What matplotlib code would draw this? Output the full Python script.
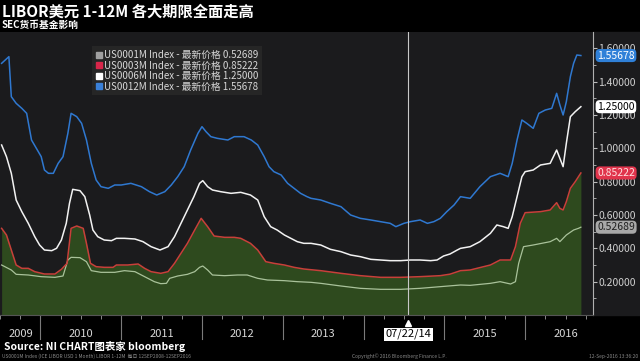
import matplotlib
matplotlib.use("Agg")
import matplotlib.pyplot as plt
import matplotlib.transforms as mtransforms
from matplotlib.lines import Line2D
from matplotlib.patches import Rectangle

plt.rcParams['font.family'] = ['Noto Sans CJK SC', 'DejaVu Sans']

# decimal years
t_12m = [2009.52, 2009.61, 2009.64, 2009.70, 2009.77, 2009.83, 2009.89, 2009.95, 2010.01, 2010.05,
         2010.10, 2010.16, 2010.22, 2010.28, 2010.34, 2010.38, 2010.45, 2010.51, 2010.57, 2010.63,
         2010.69, 2010.75, 2010.84, 2010.92, 2011.00, 2011.12, 2011.25, 2011.35, 2011.44, 2011.54,
         2011.62, 2011.70, 2011.78, 2011.86, 2011.95, 2012.00, 2012.05, 2012.11, 2012.19, 2012.32,
         2012.40, 2012.52, 2012.61, 2012.69, 2012.77, 2012.83, 2012.89, 2012.98, 2013.06, 2013.14,
         2013.22, 2013.30, 2013.35, 2013.47, 2013.59, 2013.72, 2013.84, 2013.96, 2014.09, 2014.21,
         2014.33, 2014.40, 2014.50, 2014.58, 2014.70, 2014.79, 2014.87, 2014.95, 2015.03, 2015.12,
         2015.20, 2015.32, 2015.44, 2015.57, 2015.69, 2015.79, 2015.84, 2015.90, 2015.96, 2016.02,
         2016.10, 2016.17, 2016.25, 2016.33, 2016.39, 2016.43, 2016.47, 2016.51, 2016.56, 2016.60,
         2016.64, 2016.69]
v_12m = [1.51, 1.55, 1.31, 1.27, 1.24, 1.21, 1.05, 1.00, 0.95, 0.87,
         0.85, 0.85, 0.91, 0.95, 1.09, 1.21, 1.19, 1.15, 1.05, 0.91,
         0.81, 0.77, 0.76, 0.78, 0.78, 0.79, 0.77, 0.74, 0.72, 0.74,
         0.78, 0.83, 0.89, 0.99, 1.09, 1.13, 1.10, 1.07, 1.06, 1.05,
         1.07, 1.07, 1.05, 1.02, 0.95, 0.89, 0.86, 0.84, 0.79, 0.76,
         0.73, 0.71, 0.70, 0.69, 0.67, 0.65, 0.60, 0.58, 0.57, 0.56,
         0.55, 0.53, 0.55, 0.56, 0.57, 0.55, 0.56, 0.58, 0.62, 0.66,
         0.71, 0.70, 0.77, 0.83, 0.85, 0.83, 0.91, 1.05, 1.17, 1.15,
         1.12, 1.21, 1.23, 1.24, 1.33, 1.26, 1.20, 1.28, 1.43, 1.51,
         1.56, 1.55678]

t_6m = [2009.52, 2009.58, 2009.64, 2009.70, 2009.77, 2009.85, 2009.93, 2009.99, 2010.05, 2010.14,
        2010.20, 2010.26, 2010.32, 2010.36, 2010.40, 2010.49, 2010.55, 2010.61, 2010.65, 2010.71,
        2010.79, 2010.88, 2010.94, 2011.04, 2011.17, 2011.27, 2011.37, 2011.48, 2011.58, 2011.66,
        2011.74, 2011.82, 2011.90, 2011.97, 2012.01, 2012.07, 2012.13, 2012.23, 2012.36, 2012.48,
        2012.60, 2012.69, 2012.77, 2012.85, 2012.93, 2013.02, 2013.10, 2013.18, 2013.26, 2013.35,
        2013.47, 2013.59, 2013.72, 2013.84, 2013.96, 2014.09, 2014.21, 2014.33, 2014.46, 2014.58,
        2014.70, 2014.83, 2014.91, 2014.99, 2015.07, 2015.16, 2015.20, 2015.32, 2015.44, 2015.57,
        2015.65, 2015.73, 2015.79, 2015.84, 2015.90, 2015.96, 2016.00, 2016.10, 2016.19, 2016.31,
        2016.39, 2016.43, 2016.47, 2016.51, 2016.56, 2016.62, 2016.69]
v_6m = [1.02, 0.95, 0.85, 0.69, 0.62, 0.55, 0.47, 0.42, 0.39, 0.386,
        0.40, 0.45, 0.55, 0.67, 0.754, 0.746, 0.71, 0.60, 0.51, 0.47,
        0.45, 0.446, 0.46, 0.46, 0.456, 0.44, 0.41, 0.39, 0.41, 0.47,
        0.55, 0.63, 0.71, 0.79, 0.806, 0.77, 0.75, 0.74, 0.73, 0.736,
        0.72, 0.69, 0.59, 0.53, 0.51, 0.48, 0.46, 0.44, 0.43, 0.43,
        0.42, 0.394, 0.38, 0.36, 0.35, 0.334, 0.33, 0.326, 0.326, 0.33,
        0.33, 0.326, 0.33, 0.354, 0.366, 0.39, 0.40, 0.41, 0.44, 0.49,
        0.54, 0.53, 0.52, 0.59, 0.71, 0.83, 0.86, 0.87, 0.90, 0.91,
        0.99, 0.94, 0.89, 1.03, 1.19, 1.22, 1.25]

t_3m = [2009.52, 2009.58, 2009.64, 2009.70, 2009.77, 2009.85, 2009.93, 2010.05, 2010.18, 2010.26,
        2010.33, 2010.38, 2010.45, 2010.53, 2010.57, 2010.62, 2010.69, 2010.79, 2010.90, 2010.94,
        2011.08, 2011.21, 2011.29, 2011.37, 2011.49, 2011.58, 2011.66, 2011.74, 2011.82, 2011.91,
        2011.99, 2012.07, 2012.15, 2012.28, 2012.40, 2012.48, 2012.60, 2012.69, 2012.79, 2012.89,
        2013.02, 2013.14, 2013.26, 2013.47, 2013.72, 2013.96, 2014.21, 2014.46, 2014.70, 2014.95,
        2015.07, 2015.20, 2015.32, 2015.57, 2015.69, 2015.82, 2015.88, 2015.94, 2016.00, 2016.19,
        2016.31, 2016.39, 2016.43, 2016.47, 2016.51, 2016.56, 2016.62, 2016.69]
v_3m = [0.52, 0.48, 0.39, 0.30, 0.28, 0.28, 0.26, 0.246, 0.246, 0.274,
        0.31, 0.52, 0.534, 0.52, 0.43, 0.31, 0.29, 0.286, 0.286, 0.30,
        0.30, 0.306, 0.28, 0.26, 0.25, 0.26, 0.31, 0.37, 0.43, 0.51,
        0.58, 0.53, 0.474, 0.466, 0.466, 0.46, 0.43, 0.39, 0.32, 0.31,
        0.30, 0.286, 0.276, 0.266, 0.25, 0.236, 0.226, 0.226, 0.23, 0.236,
        0.245, 0.266, 0.27, 0.30, 0.33, 0.33, 0.41, 0.55, 0.614, 0.62,
        0.63, 0.674, 0.64, 0.63, 0.68, 0.76, 0.80, 0.85222]

t_1m = [2009.52, 2009.64, 2009.70, 2009.85, 2010.01, 2010.18, 2010.28, 2010.34, 2010.38, 2010.49,
        2010.57, 2010.63, 2010.75, 2010.92, 2011.04, 2011.17, 2011.29, 2011.41, 2011.49, 2011.56,
        2011.60, 2011.70, 2011.82, 2011.91, 2011.97, 2012.01, 2012.07, 2012.13, 2012.28, 2012.44,
        2012.56, 2012.69, 2012.81, 2013.02, 2013.18, 2013.35, 2013.47, 2013.72, 2013.96, 2014.21,
        2014.46, 2014.70, 2014.95, 2015.20, 2015.32, 2015.57, 2015.69, 2015.82, 2015.88, 2015.92,
        2015.98, 2016.10, 2016.31, 2016.39, 2016.43, 2016.51, 2016.60, 2016.66, 2016.69]
v_1m = [0.30, 0.27, 0.244, 0.24, 0.23, 0.226, 0.234, 0.33, 0.346, 0.344,
        0.32, 0.266, 0.256, 0.256, 0.266, 0.26, 0.23, 0.20, 0.188, 0.19,
        0.22, 0.234, 0.244, 0.26, 0.286, 0.294, 0.27, 0.24, 0.236, 0.24,
        0.24, 0.22, 0.21, 0.206, 0.20, 0.196, 0.19, 0.174, 0.16, 0.154,
        0.154, 0.16, 0.17, 0.18, 0.178, 0.19, 0.20, 0.186, 0.20, 0.31,
        0.41, 0.42, 0.44, 0.46, 0.44, 0.48, 0.51, 0.52, 0.52689]

names = ['US0001M Index', 'US0003M Index', 'US0006M Index', 'US0012M Index']
last = ['0.52689', '0.85222', '1.25000', '1.55678']
years = ['2009', '2010', '2011', '2012', '2013', '2015', '2016']
year_mid = [2009.76, 2010.5, 2011.5, 2012.5, 2013.5, 2015.5, 2016.5]
year_edges = [2010, 2011, 2012, 2013, 2014, 2015, 2016]
marker_date = 2014.556

bg = '#1b1b1d'
c_1m, c_3m, c_6m, c_12m = '#a9c29a', '#c8403a', '#f2f2f2', '#2f78d0'

fig = plt.figure(figsize=(6.4, 3.61), dpi=100, facecolor='black')
fig.patches.append(Rectangle((593 / 640, 1 - 315 / 361), 47 / 640, 283 / 361,
                             transform=fig.transFigure, color=bg, zorder=-5))
ax = fig.add_axes([0, 1 - 315 / 361, 593 / 640, 283 / 361])
ax.set_facecolor(bg)

ax.fill_between(t_3m, 0, v_3m, color='#2e4a1e', lw=0)
ax.plot(t_1m, v_1m, color=c_1m, lw=0.9)
ax.plot(t_3m, v_3m, color=c_3m, lw=1.1)
ax.plot(t_6m, v_6m, color=c_6m, lw=1.1)
ax.plot(t_12m, v_12m, color=c_12m, lw=1.1)
ax.axvline(marker_date, color='#c8c8c8', lw=0.8)

ax.set_xlim(2009.519, 2016.84)
ax.set_ylim(0, 1.698)

ax.yaxis.tick_right()
ax.set_yticks([0.2, 0.4, 0.6, 0.8, 1.0, 1.2, 1.4, 1.6])
ax.set_yticks([0.1, 0.3, 0.5, 0.7, 0.9, 1.1, 1.3, 1.5], minor=True)
ax.set_yticklabels(['%.5f' % v for v in ax.get_yticks()])
ax.tick_params(axis='y', which='both', colors='#bbbbbb', labelcolor='#d0d0d0',
               labelsize=7.5, length=3, pad=1)
ax.tick_params(axis='y', which='minor', length=2)

qt = [year_edges[0] - 0.25 * k for k in range(1, 3)][::-1] + \
     [y + 0.25 * k for y in year_edges for k in range(4)]
ax.set_xticks(qt)
ax.set_xticklabels([])
ax.tick_params(axis='x', colors='#888888', length=3, width=0.7)

for s in ['top', 'left']:
    ax.spines[s].set_visible(False)
ax.spines['right'].set_color('#b0b0b0')
ax.spines['bottom'].set_color('#555555')

trans = mtransforms.blended_transform_factory(ax.transData, ax.transAxes)
for e in year_edges:
    ax.plot([e, e], [0, -0.085], transform=trans, color='#7a7a7a', lw=0.8, clip_on=False)
for lab, m in zip(years, year_mid):
    ax.text(m, -0.068, lab, transform=trans, ha='center', va='center',
            color='#d8d8d8', fontsize=8)
ax.plot([marker_date], [-0.027], transform=trans, marker='^', color='white',
        ms=4, clip_on=False)
ax.text(marker_date, -0.068, '07/22/14', transform=trans, ha='center', va='center',
        color='black', fontsize=8,
        bbox=dict(boxstyle='square,pad=0.1', fc='white', ec='none'))

# value boxes on the right axis
ytrans = mtransforms.blended_transform_factory(ax.transAxes, ax.transData)
boxes = [(v_12m[-1], last[3], '#2f80d8', 'white'),
         (v_6m[-1], last[2], 'white', 'black'),
         (v_3m[-1], last[1], '#e0344c', '#ffe0e0'),
         (v_1m[-1], last[0], '#a8a8a8', '#202020')]
for v, txt, fc, tc in boxes:
    ax.annotate(txt, xy=(1.0, v), xycoords=ytrans, xytext=(3, 0), textcoords='offset points',
                ha='left', va='center', fontsize=7.5, color=tc, annotation_clip=False,
                zorder=10,
                bbox=dict(boxstyle='round,pad=0.15,rounding_size=0.4', fc=fc, ec='none'))

handles = [Line2D([], [], marker='s', ls='', color=c, ms=5)
           for c in ['#a0a0a0', '#d8264a', 'white', '#3a80d8']]
labels = ['%s - 最新价格 %s' % (n, p) for n, p in zip(names, last)]
leg = ax.legend(handles, labels, loc='upper left', bbox_to_anchor=(0.155, 0.95),
                fontsize=7, frameon=True, facecolor='#262626', edgecolor='none',
                framealpha=1, handlelength=0.6, handletextpad=0.2, labelspacing=0.05,
                borderpad=0.4, borderaxespad=0)
leg.get_frame().set_boxstyle('square', pad=0)
for t in leg.get_texts():
    t.set_color('#d8d8d8')

fig.text(0.003, 1 - 12 / 361, 'LIBOR美元 1-12M 各大期限全面走高', color='white',
         fontsize=11, fontweight='bold', va='center', ha='left')
fig.text(0.003, 1 - 24.5 / 361, 'SEC货币基金影响', color='white',
         fontsize=7, fontweight='bold', va='center', ha='left')
fig.text(0.006, 1 - 346 / 361, 'Source: NI CHART图表家 bloomberg', color='white',
         fontsize=7.5, fontweight='bold', va='center', ha='left')
fig.text(0.003, 1 - 356.5 / 361,
         'US0001M Index (ICE LIBOR USD 1 Month) LIBOR 1-12M  每日 12SEP2008-12SEP2016',
         color='#8a8a8a', fontsize=3.5, va='center', ha='left')
fig.text(0.55, 1 - 356.5 / 361, 'Copyright© 2016 Bloomberg Finance L.P.',
         color='#8a8a8a', fontsize=3.5, va='center', ha='left')
fig.text(0.997, 1 - 356.5 / 361, '12-Sep-2016 13:36:20',
         color='#8a8a8a', fontsize=3.5, va='center', ha='right')

fig.savefig('out.png', dpi=100, facecolor='black')
